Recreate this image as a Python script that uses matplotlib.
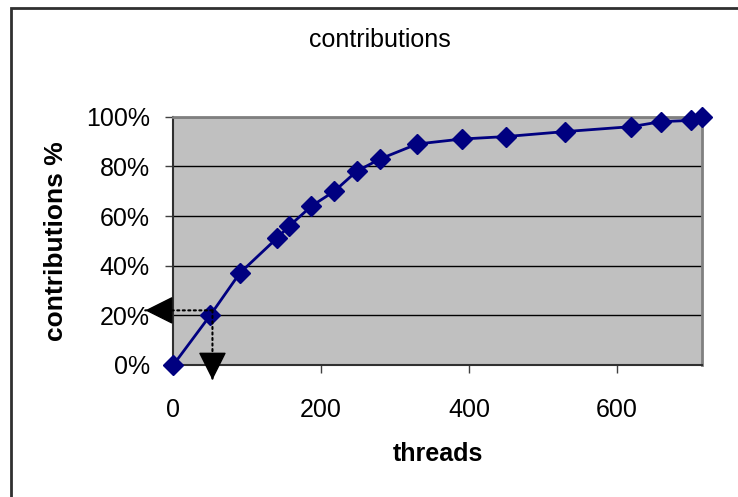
import matplotlib.pyplot as plt
from matplotlib.patches import Rectangle
from matplotlib.ticker import PercentFormatter

plt.rcParams['font.family'] = ['Liberation Sans', 'DejaVu Sans']

# threads vs cumulative contribution share (%)
threads = [0, 50, 90, 140, 157, 187, 218, 248, 280, 330, 390, 450, 530, 620, 660, 700, 715]
contrib = [0, 20, 37, 51, 56, 64, 70, 78, 83, 89, 91, 92, 94, 96, 98, 98.5, 100]

x_ticks = [0, 200, 400, 600]
y_ticks = [0, 20, 40, 60, 80, 100]

# dotted guide arrows around the 20% point
guide_x, guide_y = 53, 22
guide_x_tip, guide_y_tip = -38, -6

fig = plt.figure(figsize=(7.38, 4.97), dpi=100)
ax = fig.add_axes([0.2348, 0.2656, 0.716, 0.4996])

ax.set_facecolor('#C0C0C0')
ax.plot(threads, contrib, color='#000080', lw=2, marker='D', markersize=10,
        clip_on=False, zorder=3)

ax.set_xlim(0, 715)
ax.set_ylim(0, 100)
ax.set_xticks(x_ticks)
ax.set_yticks(y_ticks)
ax.yaxis.set_major_formatter(PercentFormatter(decimals=0))
ax.grid(axis='y', color='black', lw=1)
ax.set_axisbelow(True)

for side in ['top', 'right']:
    ax.spines[side].set_color('#808080')
    ax.spines[side].set_linewidth(2)
for side in ['left', 'bottom']:
    ax.spines[side].set_color('#303030')
    ax.spines[side].set_linewidth(1.5)

ax.tick_params(axis='x', length=6, width=1, color='#404040', pad=18, labelsize=18)
ax.tick_params(axis='y', length=6, width=1, color='#404040', pad=11, labelsize=18)

ax.set_xlabel('threads', fontsize=18, fontweight='bold', labelpad=14)
ax.set_ylabel('contributions %', fontsize=19, fontweight='bold', labelpad=13)
fig.text(380 / 738, 1 - 40 / 497, 'contributions', fontsize=18,
         ha='center', va='center')

# dotted shafts
dotted = dict(arrowstyle='-', linestyle=':', color='black', lw=1.5,
              shrinkA=0, shrinkB=0)
ax.annotate('', xy=(guide_x_tip, guide_y), xytext=(guide_x, guide_y),
            arrowprops=dotted, annotation_clip=False)
ax.annotate('', xy=(guide_x, guide_y_tip), xytext=(guide_x, guide_y),
            arrowprops=dotted, annotation_clip=False)
# solid filled heads
head = dict(arrowstyle='-|>,head_length=1.0,head_width=0.5', color='black',
            lw=1, mutation_scale=18, shrinkA=0, shrinkB=0)
ax.annotate('', xy=(guide_x_tip, guide_y), xytext=(18, 0),
            textcoords='offset points', arrowprops=head, annotation_clip=False)
ax.annotate('', xy=(guide_x, guide_y_tip), xytext=(0, 18),
            textcoords='offset points', arrowprops=head, annotation_clip=False)

# outer chart border (only left and top edges are visible)
fig.patches.append(Rectangle((11 / 738, -0.1), 1.2, 1.1 - 8 / 497,
                             transform=fig.transFigure, fill=False,
                             ec='#303030', lw=2))

fig.savefig('out.png', dpi=100)
